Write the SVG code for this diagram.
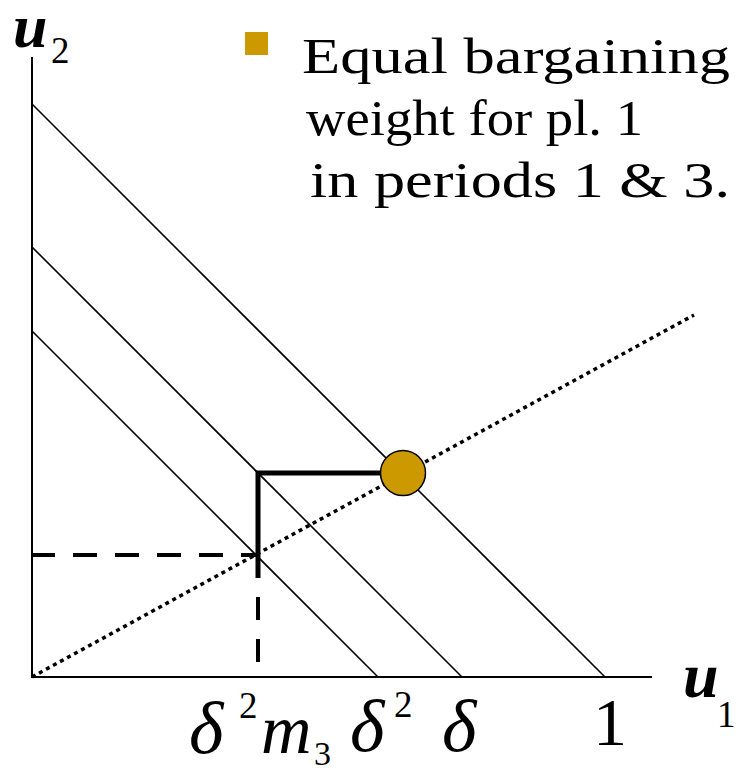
<svg xmlns="http://www.w3.org/2000/svg" width="739" height="774" viewBox="0 0 739 774">
<style>
.axis{stroke:#000;stroke-width:2;fill:none}
.budget{stroke:#000;stroke-width:1.6;fill:none}
.dot{stroke:#000;stroke-width:3.5;stroke-dasharray:4 4;fill:none}
.dash{stroke:#000;stroke-width:4;fill:none}
.thick{stroke:#000;stroke-width:5;fill:none}
.gold{fill:#CC9900}
text{font-family:'Liberation Serif','Times New Roman',Times,serif;fill:#000}
.it{font-style:italic}
.bi{font-style:italic;font-weight:bold}
</style>
<rect width="739" height="774" fill="#fff"/>
<g id="connectors">
  <path class="axis" d="M32,57 V677 H652"/>
  <path class="budget" d="M32,104 L605,677"/>
  <path class="budget" d="M32,247 L462,677"/>
  <path class="budget" d="M32,331 L378,677"/>
  <path class="dot" d="M32,677 L694,315"/>
  <path class="dash" d="M31,555 H258" stroke-dasharray="24 18"/>
  <path class="dash" d="M258,555 V677" stroke-dasharray="23 19"/>
  <path class="thick" d="M258,578 V473 H385"/>
</g>
<g id="point">
  <circle class="gold" cx="403" cy="473" r="22.5" stroke="#000" stroke-width="1.5"/>
</g>
<g id="axis-u2" font-family="Liberation Serif, serif">
  <text class="bi" x="13" y="47" font-size="62">u</text>
  <text x="51" y="63" font-size="37">2</text>
</g>
<g id="axis-u1" font-family="Liberation Serif, serif">
  <text class="bi" x="683" y="697" font-size="64">u</text>
  <text x="717" y="727" font-size="37">1</text>
</g>
<g id="legend" font-family="Liberation Serif, serif">
  <rect class="gold" x="245" y="32" width="23" height="23"/>
  <text x="302" y="73" font-size="50" textLength="428" lengthAdjust="spacingAndGlyphs">Equal bargaining</text>
  <text x="306" y="135" font-size="50" textLength="337" lengthAdjust="spacingAndGlyphs">weight for pl. 1</text>
  <text x="310" y="197" font-size="50" textLength="420" lengthAdjust="spacingAndGlyphs">in periods 1 &amp; 3.</text>
</g>
<g id="tick-d2m3" font-family="Liberation Serif, serif">
  <text class="it" x="189" y="753" font-size="74">δ</text>
  <text x="239" y="718" font-size="37">2</text>
  <text class="it" x="261" y="753" font-size="70">m</text>
  <text x="314" y="765" font-size="34">3</text>
</g>
<g id="tick-d2" font-family="Liberation Serif, serif">
  <text class="it" x="350" y="751" font-size="74">δ</text>
  <text x="394" y="717" font-size="37">2</text>
</g>
<g id="tick-d" font-family="Liberation Serif, serif">
  <text class="it" x="442" y="751" font-size="74">δ</text>
</g>
<g id="tick-1" font-family="Liberation Serif, serif">
  <text x="593" y="745" font-size="68">1</text>
</g>
</svg>
